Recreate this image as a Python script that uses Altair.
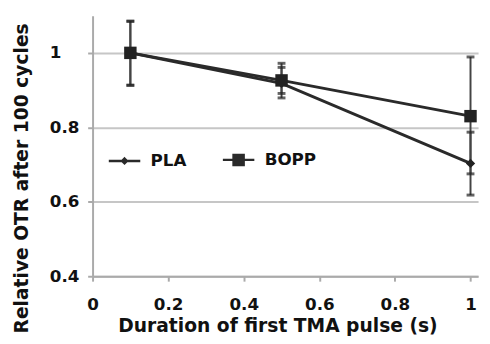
import altair as alt
import pandas as pd

# ---- data ----
durations = [0.1, 0.5, 1.0]
series_names = ["PLA", "BOPP"]
pla_val = [1.0, 0.918, 0.703]
pla_lo = [0.913, 0.891, 0.618]
pla_hi = [1.085, 0.961, 0.787]
bopp_val = [1.0, 0.926, 0.830]
bopp_lo = [0.913, 0.879, 0.675]
bopp_hi = [1.085, 0.972, 0.989]
x_ticks = [0, 0.2, 0.4, 0.6, 0.8, 1]
y_ticks = [0.4, 0.6, 0.8, 1]

rows = []
for name, vals, los, his in [("PLA", pla_val, pla_lo, pla_hi),
                             ("BOPP", bopp_val, bopp_lo, bopp_hi)]:
    for d, v, lo, hi in zip(durations, vals, los, his):
        rows.append({"dur": d, "val": v, "lo": lo, "hi": hi,
                     "series": name, "series_l": name})
df = pd.DataFrame(rows)

FONT = "DejaVu Sans"
DARK = "#2a2a2a"

x_enc = alt.X("dur:Q", scale=alt.Scale(domain=[0, 1.02], nice=False, zero=False),
              axis=alt.Axis(values=x_ticks, format="~g", grid=False,
                            title="Duration of first TMA pulse (s)",
                            titleX=188, titleY=56, titleBaseline="alphabetic",
                            labelPadding=16))
y_scale = alt.Scale(domain=[0.4, 1.1], nice=False, zero=False)
y_enc = alt.Y("val:Q", scale=y_scale,
              axis=alt.Axis(values=y_ticks, format="~g", grid=True,
                            title="Relative OTR after 100 cycles",
                            titleX=-66, titleY=165, titleBaseline="alphabetic",
                            labelAlign="left", labelPadding=39))

base = alt.Chart(df)

lines = base.mark_line(color=DARK, strokeWidth=3).encode(
    x=x_enc, y=y_enc, detail="series:N")

rules = base.mark_rule(color="#444", strokeWidth=2).encode(
    x="dur:Q", y=alt.Y("lo:Q", scale=y_scale), y2="hi:Q")

cap_lo = base.mark_tick(orient="horizontal", size=8, thickness=3, color="#222").encode(
    x="dur:Q", y=alt.Y("lo:Q", scale=y_scale))
cap_hi = base.mark_tick(orient="horizontal", size=8, thickness=3, color="#222").encode(
    x="dur:Q", y=alt.Y("hi:Q", scale=y_scale))

points = base.mark_point(filled=True, opacity=1, color="#222").encode(
    x="dur:Q", y="val:Q",
    shape=alt.Shape("series:N", scale=alt.Scale(domain=series_names, range=["diamond", "square"]),
                    legend=None),
    size=alt.Size("series:N", scale=alt.Scale(domain=series_names, range=[90, 160]),
                  legend=None))

diamond_path = ("M-1,0H1"
                "M0,-0.15L0.15,0L0,0.15L-0.15,0Z"
                "M0,-0.06L0.06,0L0,0.06L-0.06,0Z")
square_path = ("M-1,0H1"
               "M-0.32,-0.32H0.32V0.32H-0.32Z"
               "M-0.22,-0.22H0.22V0.22H-0.22Z"
               "M-0.12,-0.12H0.12V0.12H-0.12Z"
               "M-0.04,-0.04H0.04V0.04H-0.04Z")
legend_src = base.mark_point(filled=False, opacity=0, color=DARK).encode(
    x="dur:Q", y="val:Q",
    shape=alt.Shape("series_l:N",
                    scale=alt.Scale(domain=series_names, range=[diamond_path, square_path]),
                    legend=alt.Legend(title=None, orient="none", legendX=15, legendY=129,
                                      direction="horizontal", padding=0,
                                      symbolSize=1024, symbolOpacity=1,
                                      symbolStrokeColor=DARK,
                                      symbolStrokeWidth=2.5,
                                      labelFont=FONT, labelFontSize=17,
                                      labelFontWeight="bold", labelColor="#111",
                                      labelOffset=9, columnPadding=31)))

chart = alt.layer(lines, rules, cap_lo, cap_hi, points, legend_src).resolve_scale(
    shape="independent", size="independent").resolve_legend(shape="independent").properties(
    width=392, height=265,
    autosize=alt.AutoSizeParams(type="none"),
    padding={"left": 86, "top": 5, "right": 4, "bottom": 58},
    background="white",
).configure_view(stroke=None).configure_axis(
    labelFont=FONT, labelFontSize=17, labelFontWeight="bold", labelColor="#111",
    titleFont=FONT, titleFontSize=19, titleFontWeight="bold", titleColor="#111",
    domainColor="#aaaaaa", domainWidth=2, tickColor="#aaaaaa", tickWidth=2, tickSize=5,
    gridColor="#c6c6c6", gridWidth=2, labelFlush=False,
)

chart.save("out.html", embed_options={"renderer": "svg", "actions": False})
